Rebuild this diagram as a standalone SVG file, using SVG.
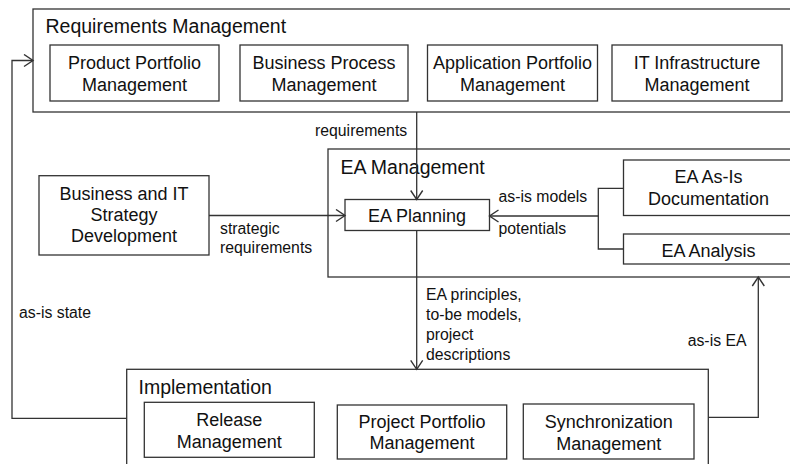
<svg xmlns="http://www.w3.org/2000/svg" width="790" height="464" viewBox="0 0 790 464">
<defs>
<style>
.box{fill:#fff;stroke:#333;stroke-width:1.3}
.t{font-family:"Liberation Sans",Arial,sans-serif;font-size:18px;fill:#111;text-anchor:middle}
.h{font-family:"Liberation Sans",Arial,sans-serif;font-size:19.5px;fill:#111}
.l{font-family:"Liberation Sans",Arial,sans-serif;font-size:15.8px;fill:#111}
.c{fill:none;stroke:#333;stroke-width:1.3}
</style>
<marker id="arr" markerUnits="userSpaceOnUse" markerWidth="12" markerHeight="14" refX="10" refY="7" orient="auto">
<path d="M1,1 L10,7 L1,13" fill="none" stroke="#333" stroke-width="1.4"/>
</marker>
</defs>
<rect width="790" height="464" fill="#fff"/>

<g id="requirements-management">
<rect class="box" x="33" y="9" width="800" height="103"/>
<text class="h" x="45.5" y="33">Requirements Management</text>
</g>
<g id="product-portfolio">
<rect class="box" x="50" y="45" width="169" height="56"/>
<text class="t" x="134.5" y="69">Product Portfolio</text>
<text class="t" x="134.5" y="91">Management</text>
</g>
<g id="business-process">
<rect class="box" x="240" y="45" width="168" height="56"/>
<text class="t" x="324" y="69">Business Process</text>
<text class="t" x="324" y="91">Management</text>
</g>
<g id="application-portfolio">
<rect class="box" x="427.5" y="45" width="170" height="56"/>
<text class="t" x="512.5" y="69">Application Portfolio</text>
<text class="t" x="512.5" y="91">Management</text>
</g>
<g id="it-infrastructure">
<rect class="box" x="612" y="45" width="170" height="56"/>
<text class="t" x="697" y="69">IT Infrastructure</text>
<text class="t" x="697" y="91">Management</text>
</g>

<g id="ea-management">
<rect class="box" x="328" y="149" width="500" height="128"/>
<text class="h" x="340.5" y="174">EA Management</text>
</g>
<g id="ea-planning">
<rect class="box" x="345" y="199.5" width="144.5" height="31"/>
<text class="t" x="417" y="222">EA Planning</text>
</g>
<g id="ea-asis-documentation">
<rect class="box" x="623.5" y="160" width="170" height="55.5"/>
<text class="t" x="708.5" y="182.5">EA As-Is</text>
<text class="t" x="708.5" y="204.5">Documentation</text>
</g>
<g id="ea-analysis">
<rect class="box" x="623.5" y="234" width="170" height="30"/>
<text class="t" x="708.5" y="256.5">EA Analysis</text>
</g>

<g id="strategy-development">
<rect class="box" x="39" y="175.7" width="170" height="79.3"/>
<text class="t" x="124" y="200">Business and IT</text>
<text class="t" x="124" y="221">Strategy</text>
<text class="t" x="124" y="242">Development</text>
</g>

<g id="implementation">
<rect class="box" x="126.7" y="369.3" width="581.6" height="120"/>
<text class="h" x="138.5" y="393.5">Implementation</text>
</g>
<g id="release-management">
<rect class="box" x="144.3" y="402.3" width="170" height="55"/>
<text class="t" x="229.3" y="426">Release</text>
<text class="t" x="229.3" y="447.5">Management</text>
</g>
<g id="project-portfolio">
<rect class="box" x="337.3" y="405" width="169.4" height="54"/>
<text class="t" x="422" y="427.5">Project Portfolio</text>
<text class="t" x="422" y="449">Management</text>
</g>
<g id="synchronization">
<rect class="box" x="523.3" y="404" width="170.7" height="55"/>
<text class="t" x="608.7" y="428">Synchronization</text>
<text class="t" x="608.7" y="449.5">Management</text>
</g>

<g id="connectors">
<path class="c" d="M416.7,112 V199.5" marker-end="url(#arr)"/>
<text class="l" x="315" y="136">requirements</text>

<path class="c" d="M209,215.5 H345" marker-end="url(#arr)"/>
<text class="l" x="220" y="234">strategic</text>
<text class="l" x="220" y="253">requirements</text>

<path class="c" d="M623.5,188.3 H598.3 V249 H623.5"/>
<path class="c" d="M598.3,216 H489.5" stroke-width="2" marker-end="url(#arr)"/>
<text class="l" x="498.5" y="202.3">as-is models</text>
<text class="l" x="498.5" y="234">potentials</text>

<path class="c" d="M416.7,230.5 V369.3" marker-end="url(#arr)"/>
<text class="l" x="426" y="300">EA principles,</text>
<text class="l" x="426" y="320">to-be models,</text>
<text class="l" x="426" y="340">project</text>
<text class="l" x="426" y="360">descriptions</text>

<path class="c" d="M708.3,417.3 H758.3 V277" marker-end="url(#arr)"/>
<text class="l" x="687.7" y="345.7">as-is EA</text>

<path class="c" d="M126.7,418.3 H12 V60.5 H33" marker-end="url(#arr)"/>
<text class="l" x="19" y="318">as-is state</text>
</g>
</svg>
